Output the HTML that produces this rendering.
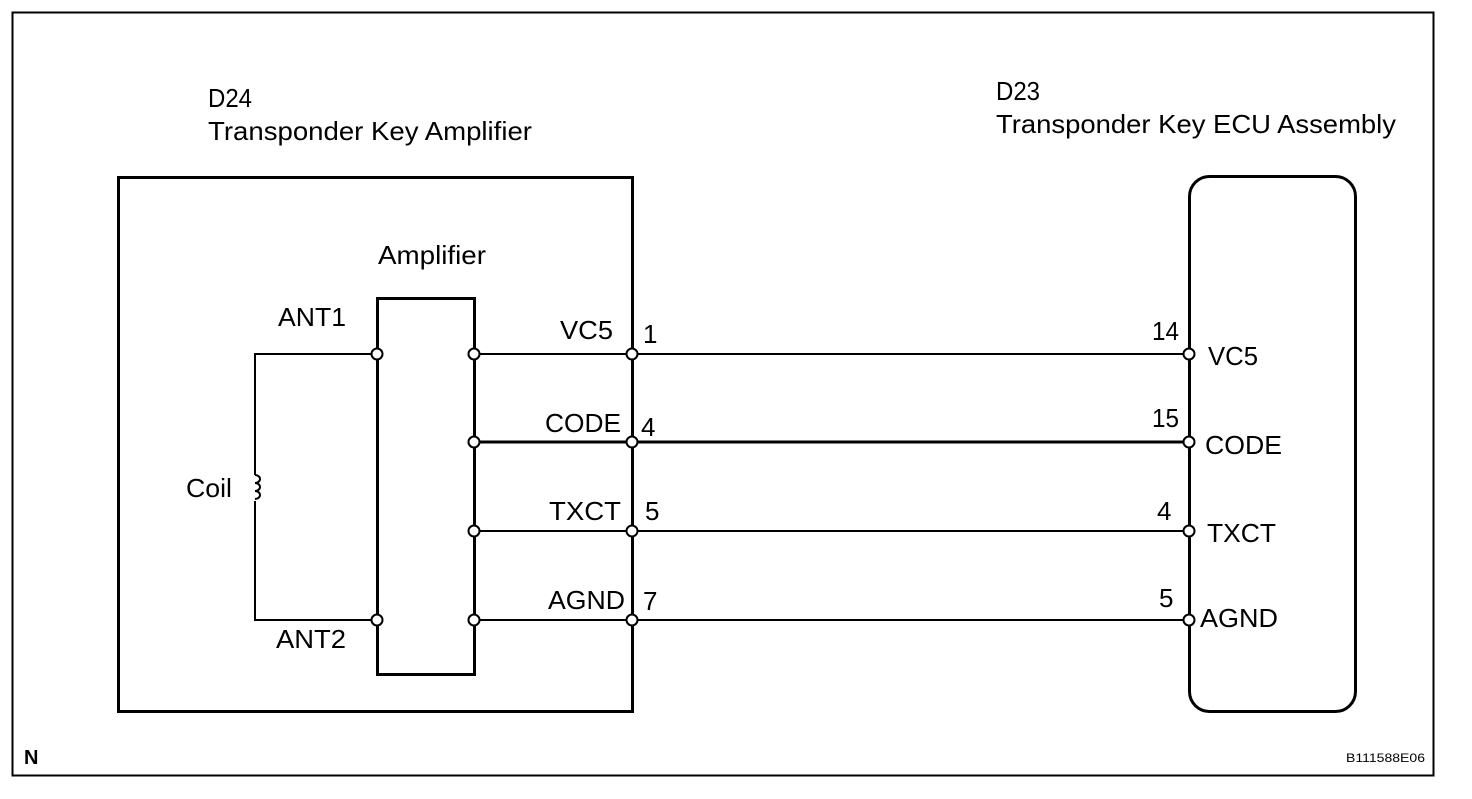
<!DOCTYPE html>
<html><head><style>
body{margin:0;background:#fff;}
svg text{font-family:"Liberation Sans",Arial,sans-serif;fill:#000;}
</style></head><body>
<svg width="1472" height="794" viewBox="0 0 1472 794" xmlns="http://www.w3.org/2000/svg">
<rect x="12.5" y="12.5" width="1421" height="763" fill="none" stroke="#000" stroke-width="2"/>
<g font-size="26">
<text x="208" y="107" textLength="44" lengthAdjust="spacingAndGlyphs">D24</text>
<text x="208" y="140" textLength="324" lengthAdjust="spacingAndGlyphs">Transponder Key Amplifier</text>
<text x="996" y="100" textLength="44" lengthAdjust="spacingAndGlyphs">D23</text>
<text x="996" y="133" textLength="400" lengthAdjust="spacingAndGlyphs">Transponder Key ECU Assembly</text>
<text x="378" y="264" textLength="108" lengthAdjust="spacingAndGlyphs">Amplifier</text>
<text x="278" y="326" textLength="68" lengthAdjust="spacingAndGlyphs">ANT1</text>
<text x="276" y="648" textLength="70" lengthAdjust="spacingAndGlyphs">ANT2</text>
<text x="186" y="497" textLength="46" lengthAdjust="spacingAndGlyphs">Coil</text>
<text x="560" y="339" textLength="53" lengthAdjust="spacingAndGlyphs">VC5</text><text x="643" y="343">1</text>
<text x="545" y="432" textLength="76" lengthAdjust="spacingAndGlyphs">CODE</text><text x="641" y="436">4</text>
<text x="549" y="520" textLength="72" lengthAdjust="spacingAndGlyphs">TXCT</text><text x="645" y="520">5</text>
<text x="548" y="609" textLength="77" lengthAdjust="spacingAndGlyphs">AGND</text><text x="643" y="610">7</text>
<text x="1152" y="340" textLength="27" lengthAdjust="spacingAndGlyphs">14</text><text x="1208" y="365" textLength="50" lengthAdjust="spacingAndGlyphs">VC5</text>
<text x="1152" y="427" textLength="27" lengthAdjust="spacingAndGlyphs">15</text><text x="1205" y="454" textLength="77" lengthAdjust="spacingAndGlyphs">CODE</text>
<text x="1157" y="520">4</text><text x="1207" y="542" textLength="69" lengthAdjust="spacingAndGlyphs">TXCT</text>
<text x="1159" y="607">5</text><text x="1200" y="627" textLength="78" lengthAdjust="spacingAndGlyphs">AGND</text>
</g>
<rect x="118.5" y="177.5" width="514" height="534" fill="none" stroke="#000" stroke-width="3"/>
<rect x="377.5" y="298.5" width="97" height="376" fill="none" stroke="#000" stroke-width="3"/>
<rect x="1189.5" y="176.5" width="166" height="535" rx="20" fill="none" stroke="#000" stroke-width="3"/>
<path d="M377 354H255V475M255 501V620H377" fill="none" stroke="#000" stroke-width="2"/>
<path d="M255 475 a5 4 0 0 1 0 8 a5 4 0 0 1 0 8 a5 4 0 0 1 0 8" fill="none" stroke="#000" stroke-width="2"/>
<line x1="474" y1="354" x2="1189" y2="354" stroke="#000" stroke-width="2"/>
<line x1="474" y1="442" x2="1189" y2="442" stroke="#000" stroke-width="3"/>
<line x1="474" y1="531" x2="1189" y2="531" stroke="#000" stroke-width="2"/>
<line x1="474" y1="620" x2="1189" y2="620" stroke="#000" stroke-width="2"/>
<g fill="#fff" stroke="#000" stroke-width="2">
<circle cx="377" cy="354" r="5.5"/><circle cx="377" cy="620" r="5.5"/>
<circle cx="474" cy="354" r="5.5"/><circle cx="474" cy="442" r="5.5"/><circle cx="474" cy="531" r="5.5"/><circle cx="474" cy="620" r="5.5"/>
<circle cx="632" cy="354" r="5.5"/><circle cx="632" cy="442" r="5.5"/><circle cx="632" cy="531" r="5.5"/><circle cx="632" cy="620" r="5.5"/>
<circle cx="1189" cy="354" r="5.5"/><circle cx="1189" cy="442" r="5.5"/><circle cx="1189" cy="531" r="5.5"/><circle cx="1189" cy="620" r="5.5"/>
</g>
<text x="24" y="764" font-size="20" font-weight="bold">N</text>
<text x="1346" y="762" font-size="12" textLength="79" lengthAdjust="spacingAndGlyphs">B111588E06</text>
</svg>
</body></html>
